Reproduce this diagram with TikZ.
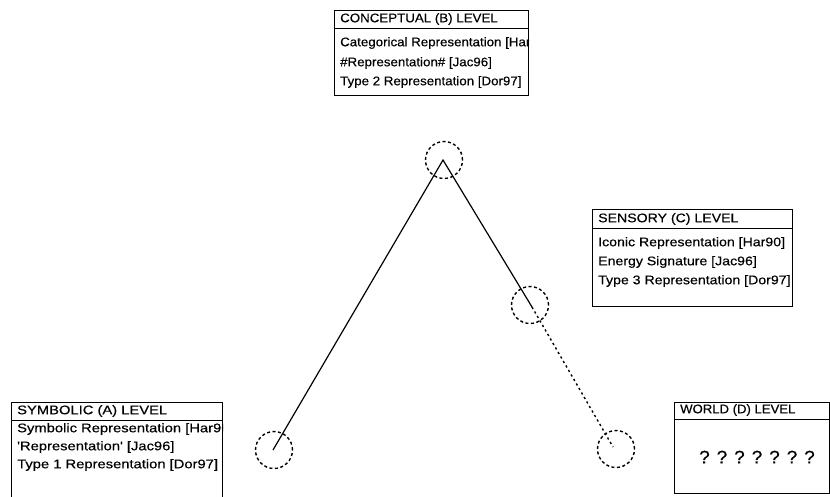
\documentclass[tikz,border=0pt]{standalone}
\usepackage{fontspec}
% one width per box, as the printed boxes are set at slightly different widths
\newfontfamily\fontA[FakeStretch=1.18,FakeBold=0.4]{Liberation Sans}
\newfontfamily\fontB[FakeStretch=1.065,FakeBold=0.4]{Liberation Sans}
\newfontfamily\fontC[FakeStretch=1.13,FakeBold=0.4]{Liberation Sans}
\newfontfamily\fontD[FakeStretch=1.05,FakeBold=0.4]{Liberation Sans}
\begin{document}
\begin{tikzpicture}[x=1pt,y=-1pt,
  frame/.style={draw, line width=1pt, inner sep=0pt, anchor=north west},
  label/.style={anchor=west, inner sep=0pt},
  labA/.style={label, font=\fontA\fontsize{12.5}{14}\selectfont},
  labB/.style={label, font=\fontB\fontsize{12.5}{14}\selectfont},
  labC/.style={label, font=\fontC\fontsize{12.5}{14}\selectfont},
  labD/.style={label, font=\fontD\fontsize{12.5}{14}\selectfont},
  spot/.style={draw, circle, dash pattern=on 3pt off 2.5pt, line width=1.4pt,
               minimum size=37pt, inner sep=0pt},
  link/.style={line width=1.2pt},
  faint/.style={line width=1.4pt, dash pattern=on 2.2pt off 3pt}]
\useasboundingbox (0,0) rectangle (830,496);

% level boxes: frame, header rule, texts clipped to the frame
\node[frame, minimum width=194pt, minimum height=85pt] (cbox) at (334,10) {};
\draw[line width=0.9pt] ([yshift=-18pt]cbox.north west) -- ([yshift=-18pt]cbox.north east);
\begin{scope}
\clip (cbox.north west) rectangle (cbox.south east);
\node[labB] (ch) at (340,19) {CONCEPTUAL (B) LEVEL};
\node[labB] (c1) at (340,43) {Categorical Representation [Har90]};
\node[labB] (c2) at (340,63) {\#Representation\# [Jac96]};
\node[labB] (c3) at (340,82) {Type 2 Representation [Dor97]};
\end{scope}

\node[frame, minimum width=200pt, minimum height=97pt] (sbox) at (592,209) {};
\draw[line width=0.9pt] ([yshift=-19pt]sbox.north west) -- ([yshift=-19pt]sbox.north east);
\begin{scope}
\clip (sbox.north west) rectangle (sbox.south east);
\node[labC] (sh) at (598,219) {SENSORY (C) LEVEL};
\node[labC] (s1) at (598,243) {Iconic Representation [Har90]};
\node[labC] (s2) at (598,262) {Energy Signature [Jac96]};
\node[labC] (s3) at (598,281) {Type 3 Representation [Dor97]};
\end{scope}

\node[frame, minimum width=211pt, minimum height=96pt] (abox) at (11,402) {};
\draw[line width=0.9pt] ([yshift=-18pt]abox.north west) -- ([yshift=-18pt]abox.north east);
\begin{scope}
\clip (abox.north west) rectangle (abox.south east);
\node[labA] (ah) at (17,411) {SYMBOLIC (A) LEVEL};
\node[labA] (a1) at (17,429) {Symbolic Representation [Har90]};
\node[labA] (a2) at (17,447) {'Representation' [Jac96]};
\node[labA] (a3) at (17,465) {Type 1 Representation [Dor97]};
\end{scope}

\node[frame, minimum width=155pt, minimum height=91pt] (wbox) at (674,402) {};
\draw[line width=0.9pt] ([yshift=-17pt]wbox.north west) -- ([yshift=-17pt]wbox.north east);
\node[labD] (wh) at (680,410) {WORLD (D) LEVEL};
\node[inner sep=0pt, font=\fontD\fontsize{18}{22}\selectfont] (wq) at (757,457) {? ? ? ? ? ? ?};

% points of the path
\node[spot] (pa) at (274,450) {};
\node[spot] (pb) at (444,160) {};
\node[spot] (pc) at (530,305) {};
\node[spot] (pd) at (616,449) {};

\coordinate (ea) at (273,450);
\coordinate (eb) at (443,160);
\coordinate (ec) at (532,307);
\coordinate (ed) at (613,447);

\draw[link] (ea) -- (eb) -- (ec);
\draw[faint] (ec) -- (ed);
\end{tikzpicture}
\end{document}
